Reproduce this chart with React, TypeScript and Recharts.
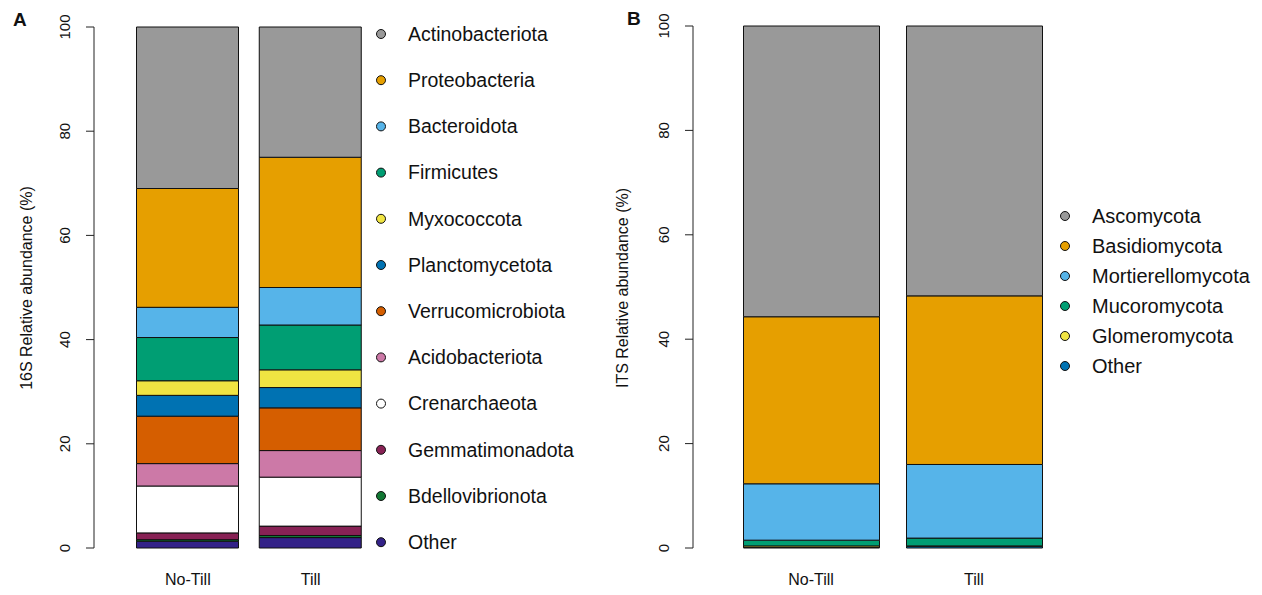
import { BarChart, Bar, XAxis, YAxis } from 'recharts';

const samples = ['No-Till', 'Till'];
const yTicks = [0, 20, 40, 60, 80, 100];

// 16S phyla, legend order (top of stack first)
const bacteriaPhyla = [
  'Actinobacteriota',
  'Proteobacteria',
  'Bacteroidota',
  'Firmicutes',
  'Myxococcota',
  'Planctomycetota',
  'Verrucomicrobiota',
  'Acidobacteriota',
  'Crenarchaeota',
  'Gemmatimonadota',
  'Bdellovibrionota',
  'Other',
];
const bacteriaNoTill = [31.0, 22.8, 5.8, 8.3, 2.8, 4.0, 9.1, 4.3, 9.0, 1.3, 0.3, 1.3];
const bacteriaTill = [25.0, 25.0, 7.2, 8.6, 3.4, 3.9, 8.2, 5.1, 9.4, 1.8, 0.4, 2.0];

// ITS phyla
const fungiPhyla = ['Ascomycota', 'Basidiomycota', 'Mortierellomycota', 'Mucoromycota', 'Glomeromycota', 'Other'];
const fungiNoTill = [55.7, 32.0, 10.8, 1.1, 0.3, 0.1];
const fungiTill = [51.7, 32.3, 14.1, 1.5, 0.05, 0.35];

const bacteriaColors = [
  '#999999', '#E69F00', '#56B4E9', '#009E73', '#F0E442', '#0072B2',
  '#D55E00', '#CC79A7', '#FFFFFF', '#882255', '#117733', '#332288',
];
const fungiColors = ['#999999', '#E69F00', '#56B4E9', '#009E73', '#F0E442', '#0072B2'];

const FONT = '"Liberation Sans", Arial, Helvetica, sans-serif';

function buildRows(phyla: string[], series: number[][]) {
  return samples.map((sample, i) => {
    const row: Record<string, string | number> = { sample };
    phyla.forEach((p, j) => {
      row[p] = series[i][j];
    });
    return row;
  });
}

const bacteriaRows = buildRows(bacteriaPhyla, [bacteriaNoTill, bacteriaTill]);
const fungiRows = buildRows(fungiPhyla, [fungiNoTill, fungiTill]);

const RotatedTick = (props: any) => {
  const { x, y, payload } = props;
  return (
    <text
      x={x}
      y={y}
      transform={`rotate(-90 ${x} ${y})`}
      textAnchor="middle"
      fontSize={15}
      fontFamily={FONT}
      fill="#111"
    >
      {payload.value}
    </text>
  );
};

type PanelProps = {
  rows: Record<string, string | number>[];
  phyla: string[];
  colors: string[];
  left: number;
  width: number;
  axisX: number;
  plotRight: number;
  padLeft: number;
  barSize: number;
  top: number;
  bottom: number;
};

function Panel({ rows, phyla, colors, left, width, axisX, plotRight, padLeft, barSize, top, bottom }: PanelProps) {
  return (
    <div style={{ position: 'absolute', left, top: 0 }}>
      <BarChart
        width={width}
        height={595}
        data={rows}
        margin={{ top, right: width - (plotRight - left), bottom: 0, left: 0 }}
        barCategoryGap={0}
      >
        <XAxis
          dataKey="sample"
          axisLine={false}
          tickLine={false}
          tickSize={0}
          tickMargin={26}
          height={595 - bottom}
          padding={{ left: padLeft, right: 0 }}
          tick={{ fontSize: 16, fontFamily: FONT, fill: '#111' }}
        />
        <YAxis
          width={axisX - left}
          domain={[0, 100]}
          ticks={yTicks}
          tickSize={8}
          tickMargin={16}
          stroke="#222"
          tick={<RotatedTick />}
        />
        {[...phyla].reverse().map((p) => (
          <Bar
            key={p}
            dataKey={p}
            stackId="a"
            fill={colors[phyla.indexOf(p)]}
            stroke="#111"
            strokeWidth={1}
            barSize={barSize}
            isAnimationActive={false}
          />
        ))}
      </BarChart>
    </div>
  );
}

function LegendList({ names, colors, x, y0, step, fontSize }: { names: string[]; colors: string[]; x: number; y0: number; step: number; fontSize: number }) {
  return (
    <>
      {names.map((n, i) => (
        <g key={n + i}>
          <circle cx={x} cy={y0 + i * step} r={4.5} fill={colors[i]} stroke="#111" strokeWidth={1} />
          <text x={x + 27} y={y0 + i * step} dy="0.35em" fontSize={fontSize} fontFamily={FONT} fill="#111">
            {n}
          </text>
        </g>
      ))}
    </>
  );
}

export default function App() {
  return (
    <div style={{ position: 'absolute', left: 0, top: 0, width: 1262, height: 595, background: '#fff' }}>
      <Panel
        rows={bacteriaRows}
        phyla={bacteriaPhyla}
        colors={bacteriaColors}
        left={40}
        width={560}
        axisX={94}
        plotRight={372}
        padLeft={32.5}
        barSize={102}
        top={27}
        bottom={548}
      />
      <Panel
        rows={fungiRows}
        phyla={fungiPhyla}
        colors={fungiColors}
        left={640}
        width={420}
        axisX={693}
        plotRight={1055.5}
        padLeft={36.5}
        barSize={136}
        top={26}
        bottom={548}
      />
      <svg
        width={1262}
        height={595}
        style={{ position: 'absolute', left: 0, top: 0, pointerEvents: 'none' }}
      >
        <text x={13} y={26} fontSize={19} fontWeight="bold" fontFamily={FONT} fill="#111">A</text>
        <text x={627} y={25} fontSize={19} fontWeight="bold" fontFamily={FONT} fill="#111">B</text>
        <text x={32} y={288} transform="rotate(-90 32 288)" textAnchor="middle" fontSize={16} fontFamily={FONT} fill="#111">
          16S Relative abundance (%)
        </text>
        <text x={628} y={288} transform="rotate(-90 628 288)" textAnchor="middle" fontSize={16} fontFamily={FONT} fill="#111">
          ITS Relative abundance (%)
        </text>
        <LegendList names={bacteriaPhyla} colors={bacteriaColors} x={381} y0={34} step={46.2} fontSize={19.5} />
        <LegendList names={fungiPhyla} colors={fungiColors} x={1065} y0={216} step={30} fontSize={20} />
      </svg>
    </div>
  );
}
